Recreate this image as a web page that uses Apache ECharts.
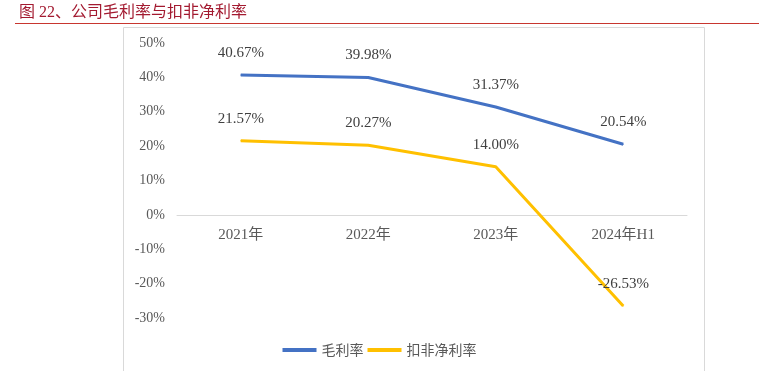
<!DOCTYPE html>
<html><head><meta charset="utf-8">
<script src="https://cdn.jsdelivr.net/npm/echarts@6/dist/echarts.min.js"></script>
<style>html,body{margin:0;padding:0;background:#fff}#c{width:759px;height:371px}</style>
</head><body><div id="c"></div>
<script>
const categories = ['2021年', '2022年', '2023年', '2024年H1'];
const grossMargin = [40.67, 39.98, 31.37, 20.54];
const netMarginExcl = [21.57, 20.27, 14.00, -26.53];
const yTicks = { min: -30, max: 50, interval: 10 };
const seriesNames = ['毛利率', '扣非净利率'];

const serif = '"Liberation Serif","DejaVu Serif","Noto Sans CJK SC",serif';
const chart = echarts.init(document.getElementById('c'));
const lbl = {
  show: true, position: 'top', distance: 14, color: '#404040',
  fontFamily: serif, fontSize: 15,
  formatter: p => p.value.toFixed(2) + '%'
};
chart.setOption({
  animation: false,
  title: {
    text: '图 22、公司毛利率与扣非净利率', left: 14, top: 0,
    textStyle: { color: '#a31a30', fontSize: 16, fontWeight: 'normal', fontFamily: serif }
  },
  graphic: [
    { type: 'rect', shape: { x: 15, y: 23, width: 744, height: 1 }, style: { fill: '#c8362f' } },
    { type: 'rect', shape: { x: 123.5, y: 27.5, width: 581, height: 360 }, style: { fill: 'none', stroke: '#d9d9d9', lineWidth: 1 } }
  ],
  grid: { left: 177, right: 72, top: 43, bottom: 53 },
  legend: {
    bottom: 9, left: 'center', itemWidth: 34, itemHeight: 4, itemGap: 4,
    icon: 'rect',
    textStyle: { fontFamily: '"Noto Sans CJK SC",serif', fontSize: 14, color: '#595959' },
    data: seriesNames
  },
  xAxis: {
    type: 'category', data: categories, offset: -103,
    axisLine: { onZero: false, lineStyle: { color: '#d9d9d9' } },
    axisTick: { show: false },
    axisLabel: { color: '#595959', fontFamily: serif, fontSize: 15, margin: 13 }
  },
  yAxis: {
    type: 'value', min: yTicks.min, max: yTicks.max, interval: yTicks.interval,
    splitLine: { show: false },
    axisLine: { show: false }, axisTick: { show: false },
    axisLabel: { color: '#595959', fontFamily: serif, fontSize: 14, margin: 12, formatter: v => v + '%' }
  },
  series: [
    { name: seriesNames[0], type: 'line', data: grossMargin, symbol: 'circle', symbolSize: 1, showSymbol: true,
      lineStyle: { color: '#4472c4', width: 3 }, itemStyle: { color: '#4472c4' }, label: lbl },
    { name: seriesNames[1], type: 'line', data: netMarginExcl, symbol: 'circle', symbolSize: 1, showSymbol: true,
      lineStyle: { color: '#ffc000', width: 3 }, itemStyle: { color: '#ffc000' }, label: lbl }
  ]
});
</script></body></html>
